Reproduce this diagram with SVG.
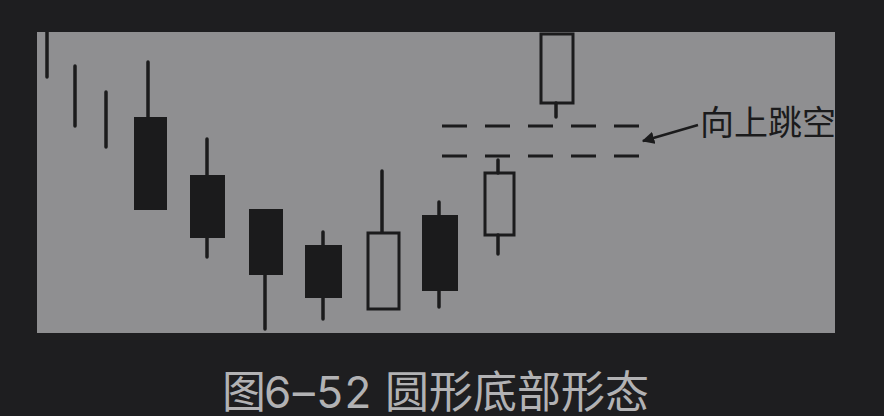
<svg xmlns="http://www.w3.org/2000/svg" width="884" height="416" viewBox="0 0 884 416">
<style>
.wick{stroke:#1b1b1c;stroke-width:3.5;stroke-linecap:round;fill:none}
.bear{fill:#1b1b1c;stroke:#1b1b1c;stroke-width:2}
.bull{fill:none;stroke:#1b1b1c;stroke-width:3}
.dash{stroke:#1b1b1c;stroke-width:3;stroke-dasharray:25 18;fill:none}
.lbl{font-family:"Noto Sans CJK SC","Noto Sans",sans-serif;fill:#1b1b1c}
.cap{font-family:"Noto Sans CJK SC","Noto Sans",sans-serif;fill:#b2b2b4;font-size:44px}
.num{font-family:Inter,"Noto Sans",sans-serif;letter-spacing:1.5px}
</style>
<defs>
<clipPath id="panelClip"><rect x="37" y="32" width="798" height="301"/></clipPath>
<marker id="ah" viewBox="0 0 10 10" refX="9" refY="5" markerWidth="5" markerHeight="5" orient="auto-start-reverse" markerUnits="strokeWidth">
<path d="M0,0 L10,5 L0,10 z" fill="#1b1b1c"/>
</marker>
</defs>
<rect width="884" height="416" fill="#1e1e20"/>
<rect x="37" y="32" width="798" height="301" fill="#8f8f91"/>
<g clip-path="url(#panelClip)">
<g id="c1"><line class="wick" x1="47" y1="30" x2="47" y2="77"/></g>
<g id="c2"><line class="wick" x1="75" y1="66" x2="75" y2="126"/></g>
<g id="c3"><line class="wick" x1="106" y1="92" x2="106" y2="147"/></g>
<g id="c4"><line class="wick" x1="148" y1="62" x2="148" y2="118"/><rect class="bear" x="135" y="118" width="31" height="91"/></g>
<g id="c5"><line class="wick" x1="207" y1="139" x2="207" y2="257"/><rect class="bear" x="191" y="176" width="33" height="61"/></g>
<g id="c6"><line class="wick" x1="265" y1="212" x2="265" y2="329"/><rect class="bear" x="250" y="210" width="32" height="64"/></g>
<g id="c7"><line class="wick" x1="323" y1="232" x2="323" y2="319"/><rect class="bear" x="306" y="246" width="35" height="51"/></g>
<g id="c8"><line class="wick" x1="382" y1="171" x2="382" y2="232"/><rect class="bull" x="368" y="233" width="31" height="76"/></g>
<g id="c9"><line class="wick" x1="439" y1="202" x2="439" y2="307"/><rect class="bear" x="423" y="216" width="34" height="74"/></g>
<g id="c10"><line class="wick" x1="498" y1="160" x2="498" y2="173"/><line class="wick" x1="498" y1="235" x2="498" y2="254"/><rect class="bull" x="485" y="173" width="29" height="62"/></g>
<g id="c11"><line class="wick" x1="556" y1="103" x2="556" y2="117"/><rect class="bull" x="541" y="34" width="32" height="69"/></g>
<g id="connectors">
<line class="dash" x1="442" y1="126" x2="645" y2="126"/>
<line class="dash" x1="442" y1="156" x2="645" y2="156"/>
<line x1="698" y1="125" x2="643" y2="141" stroke="#1b1b1c" stroke-width="2.5" marker-end="url(#ah)"/>
</g>
<g id="label"><text class="lbl" x="700" y="135" font-size="34">向上跳空</text></g>
</g>
<g id="caption">
<text class="cap" x="222" y="408">图</text>
<text class="cap num" x="264" y="408">6–52</text>
<text class="cap" x="385" y="408">圆形底部形态</text>
</g>
</svg>
